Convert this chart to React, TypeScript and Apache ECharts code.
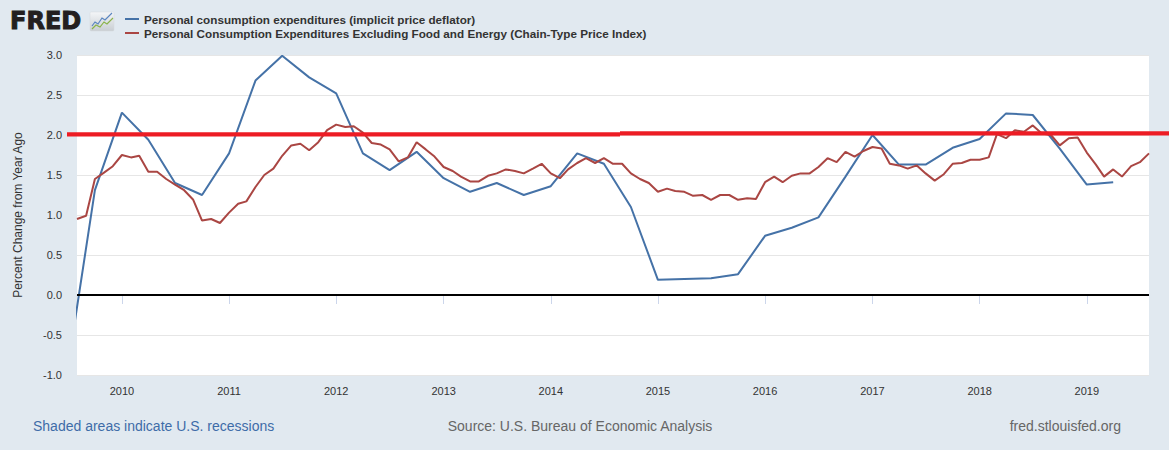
import React, { useEffect, useRef } from "react";
import * as echarts from "echarts";

// ---- data ----
const seriesNames = [
  "Personal consumption expenditures (implicit price deflator)",
  "Personal Consumption Expenditures Excluding Food and Energy (Chain-Type Price Index)",
];

// quarterly, starting 2009-07 (percent change from year ago)
const deflatorStart = { year: 2009, month: 7, stepMonths: 3 };
const deflatorValues = [
  -0.9, 1.31,
  2.28, 1.94, 1.4, 1.25,
  1.77, 2.68, 2.99, 2.72,
  2.52, 1.77, 1.56, 1.79,
  1.46, 1.29, 1.4, 1.25,
  1.36, 1.77, 1.64, 1.1,
  0.19, 0.2, 0.21, 0.26,
  0.74, 0.84, 0.97, 1.48,
  2.0, 1.63, 1.63, 1.84,
  1.95, 2.27, 2.25, 1.83,
  1.38, 1.41,
];

// monthly, starting 2009-08
const coreStart = { year: 2009, month: 8, stepMonths: 1 };
const coreValues = [
  0.95, 0.99, 1.45, 1.53, 1.61,
  1.75, 1.72, 1.74, 1.54, 1.54, 1.45, 1.38, 1.31, 1.19, 0.93, 0.95, 0.9,
  1.03, 1.14, 1.17, 1.35, 1.5, 1.58, 1.74, 1.87, 1.89, 1.81, 1.91, 2.06,
  2.13, 2.1, 2.11, 2.03, 1.9, 1.88, 1.82, 1.67, 1.72, 1.91, 1.82, 1.73,
  1.6, 1.55, 1.48, 1.42, 1.42, 1.49, 1.52, 1.57, 1.55, 1.52, 1.58, 1.64,
  1.52, 1.46, 1.57, 1.65, 1.71, 1.65, 1.71, 1.64, 1.64, 1.52, 1.45, 1.4,
  1.29, 1.33, 1.3, 1.29, 1.24, 1.25, 1.19, 1.25, 1.25, 1.19, 1.21, 1.2,
  1.41, 1.48, 1.41, 1.49, 1.52, 1.52, 1.6, 1.71, 1.66, 1.79, 1.73, 1.8,
  1.85, 1.83, 1.64, 1.62, 1.58, 1.62, 1.52, 1.43, 1.51, 1.64, 1.65, 1.69,
  1.69, 1.72, 2.01, 1.96, 2.06, 2.04, 2.12, 2.02, 2.0, 1.87, 1.96, 1.97,
  1.78, 1.63, 1.48, 1.57, 1.48, 1.61, 1.66, 1.77,
];

const xRange = { startYear: 2009, startMonth: 8, endYear: 2019, endMonth: 8 };
const yearTicks = [2010, 2011, 2012, 2013, 2014, 2015, 2016, 2017, 2018, 2019];
const yMin = -1;
const yMax = 3;
const yStep = 0.5;

function ts(year: number, month: number) {
  return Date.UTC(year, month - 1, 1);
}

function toSeries(start: { year: number; month: number; stepMonths: number }, values: number[]) {
  return values.map((v, i) => [ts(start.year, start.month + i * start.stepMonths), v]);
}

export default function App() {
  const ref = useRef<HTMLDivElement>(null);

  useEffect(() => {
    document.body.style.margin = "0";
    if (!ref.current) return;
    const chart = echarts.init(ref.current, undefined, { renderer: "svg" });
    const yearTs = yearTicks.map((y) => ts(y, 1));
    const font = "'Liberation Sans', Arial, sans-serif";

    const option: any = {
      animation: false,
      backgroundColor: "#e1e9f0",
      textStyle: { fontFamily: font },
      grid: {
        left: 77,
        right: 20,
        top: 55,
        bottom: 75,
        show: true,
        backgroundColor: "#ffffff",
        borderWidth: 0,
        containLabel: false,
        outerBoundsMode: "none",
      },
      legend: {
        orient: "vertical",
        left: 125,
        top: 12,
        padding: 0,
        itemGap: 0,
        itemWidth: 14,
        itemHeight: 2,
        icon: "rect",
        selectedMode: false,
        data: seriesNames,
        textStyle: {
          fontFamily: font,
          fontSize: 11.7,
          fontWeight: "bold",
          color: "#333333",
          lineHeight: 14,
        },
      },
      xAxis: {
        type: "value",
        min: ts(xRange.startYear, xRange.startMonth),
        max: ts(xRange.endYear, xRange.endMonth),
        axisLine: { show: true, lineStyle: { color: "#ccd6eb", width: 1 } },
        axisTick: {
          show: true,
          length: 9,
          customValues: yearTs,
          lineStyle: { color: "#ccd6eb" },
        },
        axisLabel: {
          customValues: yearTs,
          formatter: (v: number) => String(new Date(v).getUTCFullYear()),
          color: "#333333",
          fontSize: 11,
          margin: 10,
          fontFamily: font,
        },
        splitLine: { show: false },
      },
      yAxis: {
        type: "value",
        min: yMin,
        max: yMax,
        interval: yStep,
        name: "Percent Change from Year Ago",
        nameLocation: "middle",
        nameGap: 53,
        nameTextStyle: { color: "#333333", fontSize: 12, fontFamily: font },
        axisLine: { show: false },
        axisTick: { show: false },
        axisLabel: {
          formatter: (v: number) => v.toFixed(1),
          color: "#333333",
          fontSize: 11,
          margin: 15,
          fontFamily: font,
        },
        splitLine: { show: true, lineStyle: { color: "#e6e6e6", width: 1 } },
      },
      series: [
        {
          name: seriesNames[0],
          type: "line",
          data: toSeries(deflatorStart, deflatorValues),
          symbol: "none",
          clip: true,
          lineStyle: { color: "#4572a7", width: 2 },
          itemStyle: { color: "#4572a7" },
          markLine: {
            silent: true,
            symbol: ["none", "none"],
            label: { show: false },
            lineStyle: { color: "#000000", width: 2, type: "solid" },
            data: [{ yAxis: 0 }],
          },
        },
        {
          name: seriesNames[1],
          type: "line",
          data: toSeries(coreStart, coreValues),
          symbol: "none",
          clip: true,
          lineStyle: { color: "#aa4643", width: 2 },
          itemStyle: { color: "#aa4643" },
        },
      ],
      graphic: [
        {
          type: "text",
          x: 10,
          y: 21,
          style: {
            text: "FRED",
            fontFamily: "'DejaVu Sans', sans-serif",
            fontWeight: "bold",
            fontSize: 24,
            fill: "#231f20",
            stroke: "#231f20",
            lineWidth: 1,
            verticalAlign: "middle",
          },
        },
        {
          type: "rect",
          shape: { x: 90, y: 12, width: 24, height: 19, r: 1 },
          style: {
            fill: new echarts.graphic.LinearGradient(0, 0, 0, 1, [
              { offset: 0, color: "#f4f6f8" },
              { offset: 1, color: "#c9ced3" },
            ]),
            stroke: "#d5dade",
            lineWidth: 0.5,
          },
        },
        {
          type: "polyline",
          shape: { points: [[92, 26], [95, 22], [98, 24], [102, 18], [105, 20], [112, 13]] },
          style: { stroke: "#5b86c0", lineWidth: 1.2, fill: "none" },
        },
        {
          type: "polyline",
          shape: { points: [[92, 29], [96, 25], [100, 27], [104, 22], [107, 24], [113, 18]] },
          style: { stroke: "#8ab34a", lineWidth: 1.2, fill: "none" },
        },
        {
          type: "rect",
          z: 100,
          shape: { x: 67, y: 132.3, width: 553, height: 4.3 },
          style: { fill: "#ed1c24" },
        },
        {
          type: "rect",
          z: 100,
          shape: { x: 620, y: 131.3, width: 549, height: 4.3 },
          style: { fill: "#ed1c24" },
        },
        {
          type: "text",
          x: 33,
          y: 426,
          style: {
            text: "Shaded areas indicate U.S. recessions",
            fontFamily: font,
            fontSize: 14,
            fill: "#3e6ca8",
            verticalAlign: "middle",
          },
        },
        {
          type: "text",
          x: 580,
          y: 426,
          style: {
            text: "Source: U.S. Bureau of Economic Analysis",
            fontFamily: font,
            fontSize: 14,
            fill: "#666666",
            align: "center",
            verticalAlign: "middle",
          },
        },
        {
          type: "text",
          x: 1121,
          y: 426,
          style: {
            text: "fred.stlouisfed.org",
            fontFamily: font,
            fontSize: 14,
            fill: "#666666",
            align: "right",
            verticalAlign: "middle",
          },
        },
      ],
    };

    chart.setOption(option);
    return () => chart.dispose();
  }, []);

  return (
    <div
      ref={ref}
      style={{ position: "absolute", left: 0, top: 0, width: 1169, height: 450 }}
    />
  );
}
